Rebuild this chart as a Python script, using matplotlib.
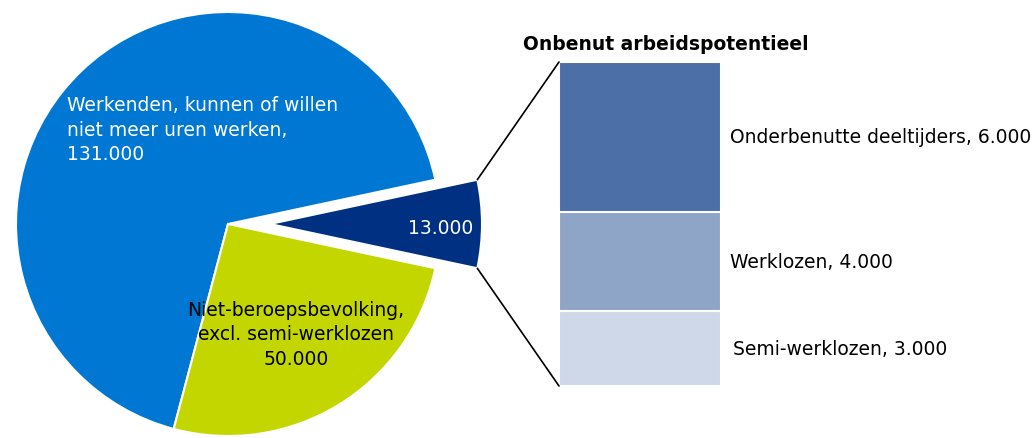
import matplotlib
matplotlib.use("Agg")
import matplotlib.pyplot as plt
from matplotlib.patches import ConnectionPatch
import numpy as np

# Data
pie_labels = ["13.000", "Werkenden, kunnen of willen\nniet meer uren werken,\n131.000",
              "Niet-beroepsbevolking,\nexcl. semi-werklozen\n50.000"]
pie_values = [13000, 131000, 50000]
pie_colors = ["#003082", "#0077d2", "#c4d600"]

bar_labels = ["Semi-werklozen, 3.000", "Werklozen, 4.000", "Onderbenutte deeltijders, 6.000"]
bar_values = [3000, 4000, 6000]
bar_colors = ["#ced8e8", "#8fa5c8", "#4b6fa6"]
bar_title = "Onbenut arbeidspotentieel"

W, H = 1032, 439
fig = plt.figure(figsize=(W / 100, H / 100), dpi=100)
plt.rcParams['font.family'] = ['DejaVu Sans']

# Pie axes in pixel coordinates (y up)
ax = fig.add_axes([0, 0, 1, 1])

total = sum(pie_values)
start = -360 * pie_values[0] / total / 2
R = 212
cx, cy = 228, H - 225
wedges, _ = ax.pie(pie_values, colors=pie_colors, startangle=start, counterclock=True,
                   radius=R, center=(cx, cy), explode=[42, 0, 0],
                   wedgeprops=dict(edgecolor="white", linewidth=1.5), frame=True)
ax.set_xlim(0, W)
ax.set_ylim(0, H)
ax.set_aspect("auto")
ax.axis("off")

fs = 13.5
ls = 1.34
ax.text(441, H - 228, pie_labels[0], color="white", fontsize=fs, ha="center", va="center")
ax.text(67, H - 130, pie_labels[1], color="white", fontsize=fs, ha="left", va="center",
        linespacing=ls)
ax.text(296, H - 335, pie_labels[2], color="black", fontsize=fs, ha="center", va="center",
        linespacing=ls)

# Bar axes
bx0, bx1, by0, by1 = 559, 721, 63, 387
bw = bx1 - bx0
bax = fig.add_axes([bx0 / W, 1 - by1 / H, bw / W, (by1 - by0) / H])
bottom = 0
offsets = [12, 9, 9]
for v, c, lab, off in zip(bar_values, bar_colors, bar_labels, offsets):
    bax.bar(0, v, bottom=bottom, width=1, color=c, edgecolor="white", linewidth=1.5)
    bax.text(0.5 + off / bw, bottom + v / 2, lab, fontsize=fs,
             ha="left", va="center", clip_on=False)
    bottom += v
bax.set_xlim(-0.5, 0.5)
bax.set_ylim(0, sum(bar_values))
bax.axis("off")
fig.text(666 / W, 1 - 44 / H, bar_title, fontsize=13.5, fontweight="bold", ha="center",
         va="center")

# Connection lines from exploded wedge corners to bar
w = wedges[0]
for ang, yb in [(w.theta2, sum(bar_values)), (w.theta1, 0)]:
    px = w.center[0] + R * np.cos(np.radians(ang))
    py = w.center[1] + R * np.sin(np.radians(ang))
    con = ConnectionPatch(xyA=(-0.5, yb), coordsA=bax.transData,
                          xyB=(px, py), coordsB=ax.transData,
                          color="black", linewidth=1.2)
    fig.add_artist(con)

fig.savefig("out.png", dpi=100)
